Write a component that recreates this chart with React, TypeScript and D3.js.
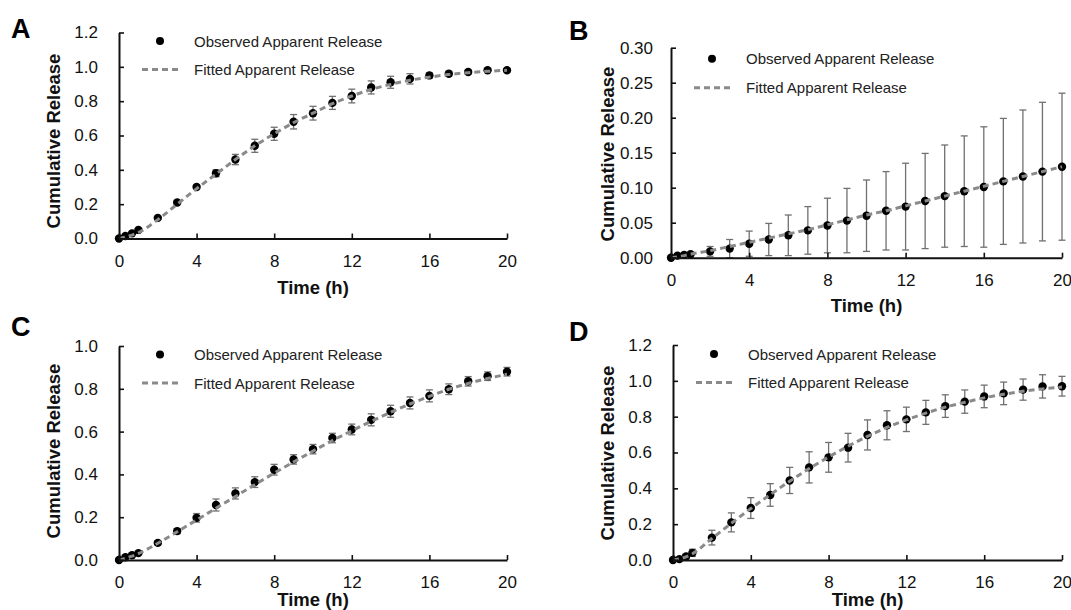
import { useRef, useEffect } from 'react';
import * as d3 from 'd3';

const times = [0, 0.33, 0.67, 1, 2, 3, 4, 5, 6, 7, 8, 9, 10, 11, 12, 13, 14, 15, 16, 17, 18, 19, 20];

const obsA = [0, 0.015, 0.03, 0.05, 0.12, 0.21, 0.3, 0.38, 0.46, 0.54, 0.61, 0.68, 0.73, 0.79, 0.83, 0.88, 0.91, 0.93, 0.95, 0.96, 0.97, 0.98, 0.98];
const sdA = [0, 0.004, 0.005, 0.006, 0.008, 0.01, 0.012, 0.02, 0.03, 0.038, 0.038, 0.042, 0.04, 0.038, 0.04, 0.038, 0.035, 0.03, 0.015, 0.014, 0.012, 0.01, 0.01];
const fitA = [0, 0.008, 0.02, 0.035, 0.11, 0.2, 0.29, 0.375, 0.46, 0.54, 0.61, 0.675, 0.73, 0.785, 0.83, 0.868, 0.898, 0.922, 0.94, 0.955, 0.966, 0.974, 0.98];

const obsB = [0, 0.003, 0.004, 0.005, 0.009, 0.013, 0.02, 0.026, 0.032, 0.039, 0.046, 0.053, 0.06, 0.067, 0.073, 0.081, 0.088, 0.095, 0.101, 0.109, 0.116, 0.123, 0.13];
const sdB = [0, 0.001, 0.002, 0.002, 0.007, 0.013, 0.018, 0.023, 0.029, 0.034, 0.039, 0.046, 0.051, 0.056, 0.062, 0.068, 0.073, 0.079, 0.086, 0.09, 0.095, 0.099, 0.105];
const fitB = [0, 0.001, 0.003, 0.005, 0.01, 0.016, 0.022, 0.028, 0.034, 0.04, 0.047, 0.054, 0.061, 0.067, 0.074, 0.081, 0.088, 0.095, 0.102, 0.109, 0.116, 0.123, 0.13];

const obsC = [0, 0.013, 0.022, 0.032, 0.08, 0.135, 0.197, 0.257, 0.311, 0.364, 0.422, 0.47, 0.518, 0.57, 0.61, 0.655, 0.695, 0.734, 0.767, 0.798, 0.835, 0.859, 0.88];
const sdC = [0, 0.004, 0.005, 0.006, 0.01, 0.012, 0.02, 0.028, 0.026, 0.025, 0.025, 0.022, 0.022, 0.022, 0.025, 0.028, 0.028, 0.028, 0.028, 0.025, 0.022, 0.02, 0.02];
const fitC = [0, 0.008, 0.018, 0.03, 0.078, 0.132, 0.187, 0.242, 0.297, 0.352, 0.406, 0.458, 0.509, 0.558, 0.604, 0.648, 0.69, 0.729, 0.765, 0.798, 0.825, 0.848, 0.868];

const obsD = [0, 0.005, 0.02, 0.04, 0.125, 0.21, 0.29, 0.363, 0.444, 0.517, 0.573, 0.627, 0.698, 0.752, 0.785, 0.824, 0.859, 0.884, 0.913, 0.93, 0.951, 0.969, 0.97];
const sdD = [0, 0.005, 0.012, 0.02, 0.041, 0.053, 0.058, 0.063, 0.073, 0.087, 0.083, 0.08, 0.084, 0.081, 0.068, 0.067, 0.063, 0.065, 0.063, 0.063, 0.059, 0.065, 0.055];
const fitD = [0, 0.006, 0.018, 0.035, 0.12, 0.205, 0.287, 0.365, 0.44, 0.51, 0.575, 0.635, 0.69, 0.74, 0.782, 0.82, 0.853, 0.88, 0.905, 0.925, 0.942, 0.955, 0.965];

const xTicks = [0, 4, 8, 12, 16, 20];
const yTicksA = [0, 0.2, 0.4, 0.6, 0.8, 1.0, 1.2];
const yTicksB = [0, 0.05, 0.1, 0.15, 0.2, 0.25, 0.3];
const yTicksC = [0, 0.2, 0.4, 0.6, 0.8, 1.0];
const yTicksD = [0, 0.2, 0.4, 0.6, 0.8, 1.0, 1.2];

const legendLabels = ['Observed Apparent Release', 'Fitted Apparent Release'];
const xTitle = 'Time (h)';
const yTitle = 'Cumulative Release';

const FONT = "'Liberation Sans', Arial, Helvetica, sans-serif";
const FIT_COLOR = '#8a8a8a';
const BAR_COLOR = '#707070';

// layout for each panel
const panels = [
  { letter: 'A', obs: obsA, sd: sdA, fit: fitA, yTicks: yTicksA, fmt: '.1f', left: 119, right: 507, top: 32.5, bottom: 238.5, lx: 11, ly: 38, tx: 60, ty: 141, xb: 294, dotDy: 8.5, lineDy: 37, pad: 21 },
  { letter: 'B', obs: obsB, sd: sdB, fit: fitB, yTicks: yTicksB, fmt: '.2f', left: 671, right: 1062, top: 47.7, bottom: 257.7, lx: 569, ly: 40, tx: 614, ty: 154, xb: 312, dotDy: 11, lineDy: 40, pad: 18 },
  { letter: 'C', obs: obsC, sd: sdC, fit: fitC, yTicks: yTicksC, fmt: '.1f', left: 119, right: 507, top: 346, bottom: 560, lx: 11, ly: 336, tx: 60, ty: 451, xb: 606, dotDy: 8.5, lineDy: 37, pad: 21 },
  { letter: 'D', obs: obsD, sd: sdD, fit: fitD, yTicks: yTicksD, fmt: '.1f', left: 673, right: 1062, top: 345, bottom: 560, lx: 569, ly: 341, tx: 614, ty: 453, xb: 606, dotDy: 9, lineDy: 37.5, pad: 21 },
];

const App = () => {
  const svgRef = useRef<SVGSVGElement>(null);

  useEffect(() => {
    const svg = d3.select(svgRef.current);
    svg.selectAll('*').remove();

    panels.forEach((p) => {
      const yMax = p.yTicks[p.yTicks.length - 1];
      const x = d3.scaleLinear().domain([0, 20]).range([p.left, p.right]);
      const y = d3.scaleLinear().domain([0, yMax]).range([p.bottom, p.top]);
      const idx = d3.range(times.length);
      const g = svg.append('g');

      // error bars
      const bars = g.append('g').attr('stroke', BAR_COLOR).attr('stroke-width', 1.3);
      bars.selectAll('.v').data(idx).join('line')
        .attr('x1', (i) => x(times[i])).attr('x2', (i) => x(times[i]))
        .attr('y1', (i) => y(p.obs[i] - p.sd[i])).attr('y2', (i) => y(p.obs[i] + p.sd[i]));
      [-1, 1].forEach((s) => {
        bars.append('g').selectAll('line').data(idx).join('line')
          .attr('x1', (i) => x(times[i]) - 3.5).attr('x2', (i) => x(times[i]) + 3.5)
          .attr('y1', (i) => y(p.obs[i] + s * p.sd[i]))
          .attr('y2', (i) => y(p.obs[i] + s * p.sd[i]));
      });

      // observed points
      g.append('g').selectAll('circle').data(idx).join('circle')
        .attr('cx', (i) => x(times[i])).attr('cy', (i) => y(p.obs[i]))
        .attr('r', 4.2).attr('fill', '#000');

      // fitted curve
      const line = d3.line<number>().x((i) => x(times[i])).y((i) => y(p.fit[i])).curve(d3.curveMonotoneX);
      g.append('path').datum(idx).attr('d', line)
        .attr('fill', 'none').attr('stroke', FIT_COLOR).attr('stroke-width', 3).attr('stroke-dasharray', '6,4');

      // axes
      const yAxis = d3.axisLeft(y).tickValues(p.yTicks).tickFormat(d3.format(p.fmt)).tickSizeInner(-5).tickSizeOuter(0).tickPadding(p.pad);
      const ya = g.append('g').attr('transform', `translate(${p.left},0)`).call(yAxis);
      const xAxis = d3.axisBottom(x).tickValues(xTicks).tickSizeInner(-5).tickSizeOuter(0).tickPadding(16);
      const xa = g.append('g').attr('transform', `translate(0,${p.bottom})`).call(xAxis);
      [ya, xa].forEach((a) => {
        a.select('.domain').attr('stroke', '#111').attr('stroke-width', 2);
        a.selectAll('.tick line').attr('stroke', '#111').attr('stroke-width', 1.6);
        a.selectAll('.tick text').attr('font-family', FONT).attr('font-size', 17).attr('fill', '#111');
      });

      // titles
      g.append('text').attr('x', p.lx).attr('y', p.ly).text(p.letter)
        .attr('font-family', FONT).attr('font-size', 27).attr('font-weight', 'bold');
      g.append('text').attr('transform', `translate(${p.tx},${p.ty}) rotate(-90)`)
        .attr('text-anchor', 'middle').text(yTitle)
        .attr('font-family', FONT).attr('font-size', 18.5).attr('font-weight', 'bold').attr('fill', '#111');
      g.append('text').attr('x', (p.left + p.right) / 2).attr('y', p.xb)
        .attr('text-anchor', 'middle').text(xTitle)
        .attr('font-family', FONT).attr('font-size', 18.5).attr('font-weight', 'bold').attr('fill', '#111');

      // legend
      const lg = g.append('g').attr('font-family', FONT).attr('font-size', 15).attr('fill', '#222');
      lg.append('circle').attr('cx', p.left + 41).attr('cy', p.top + p.dotDy).attr('r', 4).attr('fill', '#000');
      lg.append('line').attr('x1', p.left + 23).attr('x2', p.left + 59)
        .attr('y1', p.top + p.lineDy).attr('y2', p.top + p.lineDy)
        .attr('stroke', FIT_COLOR).attr('stroke-width', 3).attr('stroke-dasharray', '6,4');
      lg.append('text').attr('x', p.left + 75).attr('y', p.top + p.dotDy + 5.5).text(legendLabels[0]);
      lg.append('text').attr('x', p.left + 75).attr('y', p.top + p.lineDy + 5.5).text(legendLabels[1]);
    });
  }, []);

  return (
    <svg ref={svgRef} width={1071} height={610}
      style={{ position: 'absolute', left: 0, top: 0, background: '#fff' }} />
  );
};

export default App;
